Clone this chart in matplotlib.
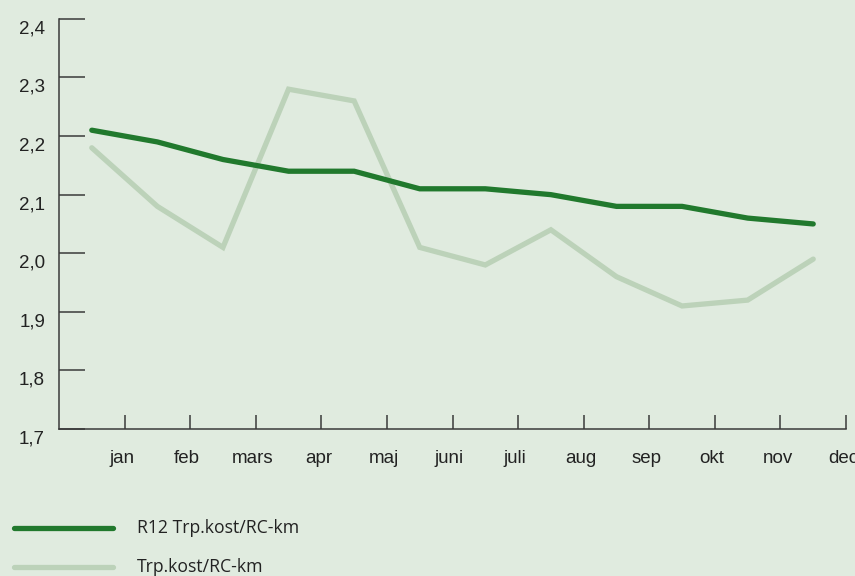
import matplotlib
matplotlib.use('Agg')
import matplotlib.pyplot as plt
import matplotlib.transforms as mtransforms
from matplotlib.lines import Line2D

months = ['jan', 'feb', 'mars', 'apr', 'maj', 'juni', 'juli', 'aug', 'sep', 'okt', 'nov', 'dec']
r12_cost = [2.21, 2.19, 2.16, 2.14, 2.14, 2.11, 2.11, 2.10, 2.08, 2.08, 2.06, 2.05]
month_cost = [2.18, 2.08, 2.01, 2.28, 2.26, 2.01, 1.98, 2.04, 1.96, 1.91, 1.92, 1.99]
y_ticks = [1.7, 1.8, 1.9, 2.0, 2.1, 2.2, 2.3, 2.4]
series_names = ['R12 Trp.kost/RC-km', 'Trp.kost/RC-km']

bg = '#e0ebdf'
dark = '#21792d'
light = '#bcd2b9'
axis_col = '#3a3a3a'

plt.rcParams['font.family'] = ['Liberation Sans', 'DejaVu Sans']

fig = plt.figure(figsize=(8.55, 5.76), dpi=100, facecolor=bg)
ax = fig.add_axes([0.069, 0.2552, 0.9205, 0.712])
ax.set_facecolor(bg)

xs = [i + 0.5 for i in range(len(months))]
ax.plot(xs, month_cost, color=light, lw=3.8, solid_capstyle='round', solid_joinstyle='miter')
ax.plot(xs, r12_cost, color=dark, lw=3.8, solid_capstyle='round', solid_joinstyle='miter')

ax.set_xlim(0, 12)
ax.set_ylim(1.7, 2.4)
for s in ['top', 'right']:
    ax.spines[s].set_visible(False)
for s in ['left', 'bottom']:
    ax.spines[s].set_color(axis_col)
    ax.spines[s].set_linewidth(1.1)

ax.set_xticks(range(1, 13))
ax.set_xticklabels(months, fontsize=13.5, color='#222222')
ax.set_yticks(y_ticks)
ax.set_yticklabels([('%.1f' % v).replace('.', ',') for v in y_ticks], fontsize=13.5, color='#222222')
ax.tick_params(axis='x', direction='in', length=10, width=1.1, color=axis_col, pad=15)
ax.tick_params(axis='y', direction='in', length=19, width=1.1, color=axis_col, pad=10)

# y labels sit a bit below their ticks, x labels a bit left
dy = mtransforms.ScaledTranslation(0, -8 / 100, fig.dpi_scale_trans)
for lab in ax.get_yticklabels():
    lab.set_transform(lab.get_transform() + dy)
dx = mtransforms.ScaledTranslation(-3 / 100, 0, fig.dpi_scale_trans)
for lab in ax.get_xticklabels():
    lab.set_transform(lab.get_transform() + dx)

# legend below the plot
for i, (name, col) in enumerate(zip(series_names, [dark, light])):
    y = 1 - (528 + 39 * i) / 576
    fig.add_artist(Line2D([14 / 855, 113 / 855], [y, y], color=col, lw=3.8,
                          solid_capstyle='round', transform=fig.transFigure))
    fig.text(137 / 855, y, name, fontsize=12.7, color='#222222', va='center',
             family=['Open Sans', 'DejaVu Sans'])

fig.savefig('out.png', dpi=100, facecolor=bg)
